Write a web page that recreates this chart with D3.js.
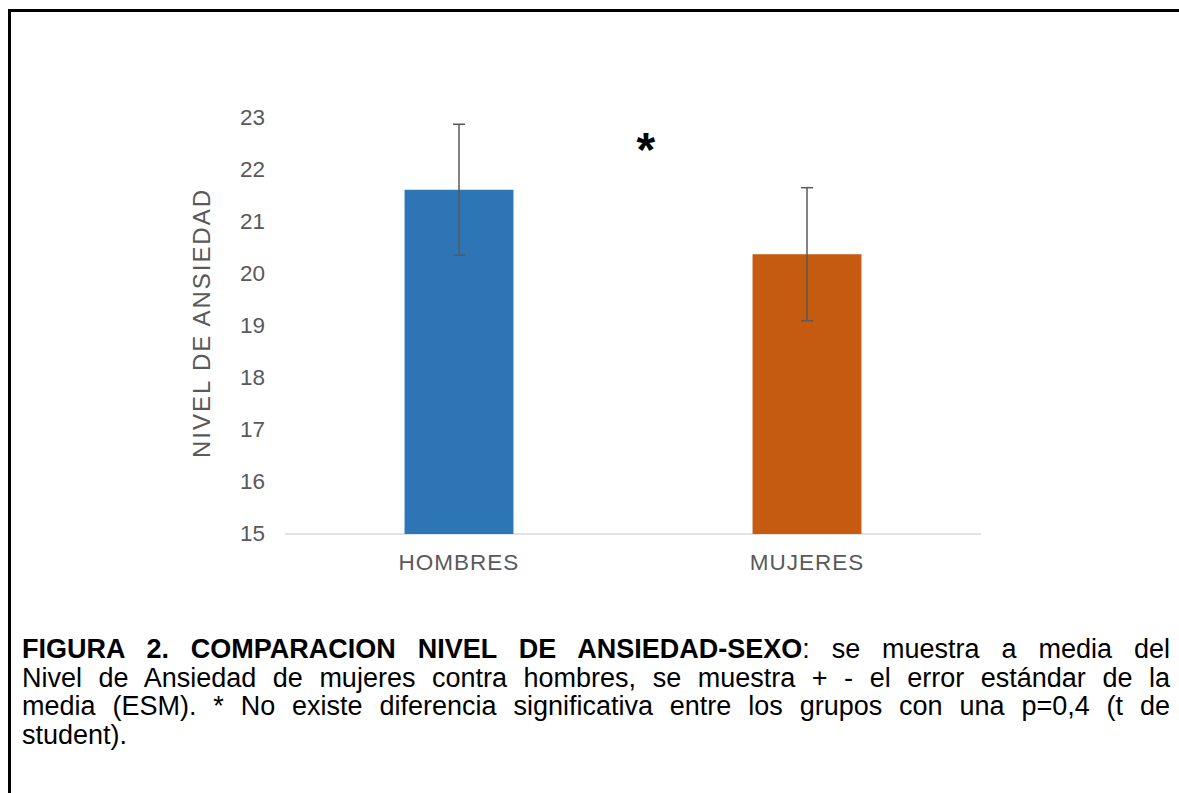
<!DOCTYPE html>
<html>
<head>
<meta charset="utf-8">
<script src="https://cdn.jsdelivr.net/npm/d3@7"></script>
<style>
  body { margin: 0; background: #fff; }
  svg { display: block; }
</style>
</head>
<body>
<svg id="chart" width="1179" height="793"></svg>
<script>
// Mean anxiety level by sex, with standard error of the mean
const categories = ["HOMBRES", "MUJERES"];
const means = [21.62, 20.38];
const stdErrors = [1.26, 1.28];
const barColors = ["#2E75B6", "#C55A11"];
const yTicks = [15, 16, 17, 18, 19, 20, 21, 22, 23];
const yTitle = "NIVEL DE ANSIEDAD";
const marker = "*";

// Caption, one entry per printed line (last line is not justified)
const captionLines = [
  [{ t: "FIGURA 2. COMPARACION NIVEL DE ANSIEDAD-SEXO", b: true }, { t: ": se muestra a media del", b: false }],
  [{ t: "Nivel de Ansiedad de mujeres contra hombres, se muestra + - el error estándar de la", b: false }],
  [{ t: "media (ESM). * No existe diferencia significativa entre los grupos con una p=0,4 (t de", b: false }],
  [{ t: "student).", b: false }]
];

const svg = d3.select("#chart");
const FONT = "'Liberation Sans', Arial, sans-serif";

// Frame (top and left edges visible)
svg.append("path")
  .attr("d", "M9.5,793 V10.5 H1179")
  .attr("fill", "none")
  .attr("stroke", "#000")
  .attr("stroke-width", 3);

const y = d3.scaleLinear().domain([15, 23]).range([534, 118]);
const x = d3.scaleBand()
  .domain(categories)
  .range([285, 981])
  .paddingInner(0.687)
  .paddingOuter(0.3435);

// Baseline
svg.append("line")
  .attr("x1", 285).attr("x2", 981)
  .attr("y1", y(15)).attr("y2", y(15))
  .attr("stroke", "#d9d9d9")
  .attr("stroke-width", 1.5);

// Y tick labels
const yAxis = d3.axisLeft(y).tickValues(yTicks).tickSize(0).tickPadding(0);
const yg = svg.append("g").attr("transform", "translate(265,0)").call(yAxis);
yg.select(".domain").remove();
yg.selectAll("text")
  .attr("font-family", FONT)
  .attr("font-size", 22.5)
  .attr("fill", "#595959")
  .attr("dy", "0.3em");

// Y title
svg.append("text")
  .attr("transform", "translate(210,324) rotate(-90)")
  .attr("text-anchor", "middle")
  .attr("font-family", FONT)
  .attr("font-size", 24)
  .attr("fill", "#595959")
  .attr("textLength", 268)
  .attr("lengthAdjust", "spacing")
  .text(yTitle);

// Bars
const data = categories.map((c, i) => ({ c, m: means[i], e: stdErrors[i], col: barColors[i] }));
svg.selectAll("rect.bar").data(data).enter().append("rect")
  .attr("class", "bar")
  .attr("x", d => x(d.c))
  .attr("width", x.bandwidth())
  .attr("y", d => y(d.m))
  .attr("height", d => y(15) - y(d.m))
  .attr("fill", d => d.col);

// Error bars
const eb = svg.selectAll("g.err").data(data).enter().append("g")
  .attr("class", "err")
  .attr("stroke", "#595959")
  .attr("stroke-width", 1.5);
const cx = d => x(d.c) + x.bandwidth() / 2;
eb.append("line")
  .attr("x1", cx).attr("x2", cx)
  .attr("y1", d => y(d.m + d.e)).attr("y2", d => y(d.m - d.e));
eb.append("line")
  .attr("x1", d => cx(d) - 6).attr("x2", d => cx(d) + 6)
  .attr("y1", d => y(d.m + d.e)).attr("y2", d => y(d.m + d.e));
eb.append("line")
  .attr("x1", d => cx(d) - 6).attr("x2", d => cx(d) + 6)
  .attr("y1", d => y(d.m - d.e)).attr("y2", d => y(d.m - d.e));

// Category labels
svg.selectAll("text.cat").data(categories).enter().append("text")
  .attr("class", "cat")
  .attr("x", d => x(d) + x.bandwidth() / 2)
  .attr("y", 570)
  .attr("text-anchor", "middle")
  .attr("font-family", FONT)
  .attr("font-size", 22.5)
  .attr("letter-spacing", 1)
  .attr("fill", "#595959")
  .text(d => d);

// Significance marker, centred between the groups
const star = svg.append("text")
  .attr("font-family", FONT)
  .attr("font-weight", "bold")
  .attr("font-size", 48)
  .attr("fill", "#000")
  .text(marker);
const sb = star.node().getBBox();
star.attr("x", 646 - sb.width / 2 - sb.x).attr("y", 0);
const sb2 = star.node().getBBox();
star.attr("y", 139 - (sb2.y + sb2.height * 0.3));

// Caption, justified between the left and right margins
const capLeft = 22, capRight = 1170, capSize = 27, capTop = 658, capLead = 28.5;
captionLines.forEach((segs, i) => {
  const t = svg.append("text")
    .attr("x", capLeft)
    .attr("y", capTop + i * capLead)
    .attr("font-family", FONT)
    .attr("font-size", capSize)
    .attr("fill", "#000")
    .attr("xml:space", "preserve");
  segs.forEach(s => t.append("tspan").attr("font-weight", s.b ? "bold" : "normal").text(s.t));
  if (i < captionLines.length - 1) {
    const natural = t.node().getComputedTextLength();
    const spaces = segs.map(s => s.t).join("").split(" ").length - 1;
    t.attr("word-spacing", (capRight - capLeft - natural) / spaces);
  }
});
</script>
</body>
</html>
